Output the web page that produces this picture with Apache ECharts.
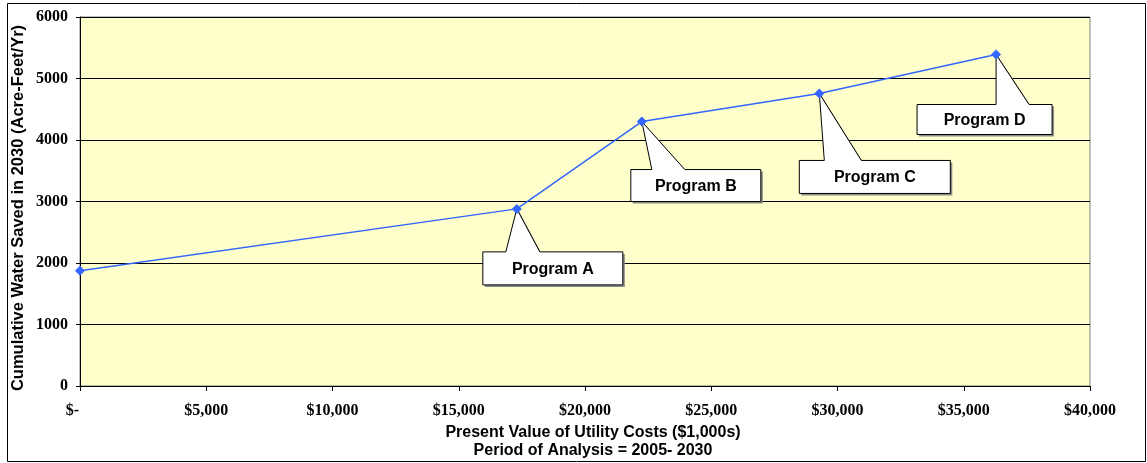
<!DOCTYPE html>
<html>
<head>
<meta charset="utf-8">
<script src="https://cdn.jsdelivr.net/npm/echarts@6/dist/echarts.min.js"></script>
<style>
  html, body { margin: 0; padding: 0; background: #ffffff; }
  #chart { width: 1147px; height: 463px; }
</style>
</head>
<body>
<div id="chart"></div>
<script>
// Present value of utility costs ($1,000s) for each step of the program sequence
const costs = [0, 17300, 22250, 29280, 36280];
// Cumulative water saved in 2030 (acre-feet per year)
const waterSaved = [1875, 2880, 4300, 4757, 5390];
// Callout text for each point (the baseline point carries none)
const programNames = [null, 'Program A', 'Program B', 'Program C', 'Program D'];

// Axis texts
const xTitleLines = ['Present Value of Utility Costs ($1,000s)', 'Period of Analysis = 2005- 2030'];
const yTitle = 'Cumulative Water Saved in 2030 (Acre-Feet/Yr)';

// Callout geometry in pixels, relative to the point it points at:
// box = [dx, dy, width, height], base = [left, right] x-offsets of the pointer where it meets the box
const calloutLayout = {
  'Program A': { box: [-34, 43, 140, 33], base: [-11, 23] },
  'Program B': { box: [-11, 48, 130, 32], base: [10, 43] },
  'Program C': { box: [-20, 67, 151, 33], base: [5, 42] },
  'Program D': { box: [-79, 50, 135, 30], base: [0, 33] }
};

const points = costs.map((c, i) => [c, waterSaved[i]]);
const calloutData = [];
programNames.forEach((n, i) => { if (n) calloutData.push([costs[i], waterSaved[i], n]); });

const tickFont = { fontFamily: 'Liberation Serif', fontWeight: 'bold', fontSize: 16, color: '#000' };
const titleFont = 'Liberation Sans';

const chart = echarts.init(document.getElementById('chart'), null, { renderer: 'canvas' });

chart.setOption({
  animation: false,
  backgroundColor: '#ffffff',
  grid: { left: 80, right: 57, top: 17, bottom: 77, show: true, backgroundColor: '#ffffcc', borderColor: '#808080', borderWidth: 1 },
  xAxis: {
    type: 'value', min: 0, max: 40000, interval: 5000,
    axisLine: { show: true, onZero: false, lineStyle: { color: '#000', width: 1 } },
    axisTick: { show: true, length: 5, lineStyle: { color: '#000' } },
    splitLine: { show: false },
    axisLabel: Object.assign({}, tickFont, {
      margin: 17,
      formatter: v => v === 0 ? '{z|$-}' : '$' + v.toLocaleString('en-US'),
      rich: { z: Object.assign({}, tickFont, { padding: [0, 15, 0, 0] }) }
    })
  },
  yAxis: {
    type: 'value', min: 0, max: 6000, interval: 1000,
    axisLine: { show: true, lineStyle: { color: '#000', width: 1 } },
    axisTick: { show: true, length: 4, lineStyle: { color: '#000' } },
    splitLine: { show: true, lineStyle: { color: '#000', width: 1 } },
    axisLabel: Object.assign({}, tickFont, { margin: 12, formatter: v => String(v) })
  },
  graphic: [
    { type: 'rect', silent: true, z: -1, shape: { x: 7.5, y: 3.5, width: 1138, height: 458 }, style: { fill: 'none', stroke: '#000', lineWidth: 1 } },
    { type: 'text', x: 593, y: 433, style: { text: xTitleLines[0], font: 'bold 16px ' + titleFont, fill: '#000', align: 'center', verticalAlign: 'middle' } },
    { type: 'text', x: 593, y: 451, style: { text: xTitleLines[1], font: 'bold 16px ' + titleFont, fill: '#000', align: 'center', verticalAlign: 'middle' } },
    { type: 'text', x: 18, y: 208, rotation: Math.PI / 2, style: { text: yTitle, font: 'bold 16.5px ' + titleFont, fill: '#000', align: 'center', verticalAlign: 'middle' } }
  ],
  series: [
    {
      type: 'custom',
      z: 1,
      data: calloutData,
      renderItem: function (params, api) {
        const p = api.coord([api.value(0), api.value(1)]);
        const name = calloutData[params.dataIndex][2];
        const L = calloutLayout[name];
        const bx = p[0] + L.box[0], by = p[1] + L.box[1], bw = L.box[2], bh = L.box[3];
        const shape = [
          [bx, by], [p[0] + L.base[0], by], [p[0], p[1]], [p[0] + L.base[1], by],
          [bx + bw, by], [bx + bw, by + bh], [bx, by + bh]
        ];
        return {
          type: 'group',
          children: [
            { type: 'polygon', shape: { points: shape.map(q => [q[0] + 2, q[1] + 2]) }, style: { fill: '#8c8c8c' } },
            { type: 'polygon', shape: { points: shape }, style: { fill: '#ffffff', stroke: '#000', lineWidth: 1 } },
            { type: 'text', x: bx + bw / 2, y: by + bh / 2 + 1, style: { text: name, font: 'bold 16px ' + titleFont, fill: '#000', align: 'center', verticalAlign: 'middle' } }
          ]
        };
      }
    },
    {
      type: 'line',
      z: 3,
      data: points,
      symbol: 'diamond',
      symbolSize: 10,
      itemStyle: { color: '#3366ff' },
      lineStyle: { color: '#3366ff', width: 1.5 }
    }
  ]
});
</script>
</body>
</html>
